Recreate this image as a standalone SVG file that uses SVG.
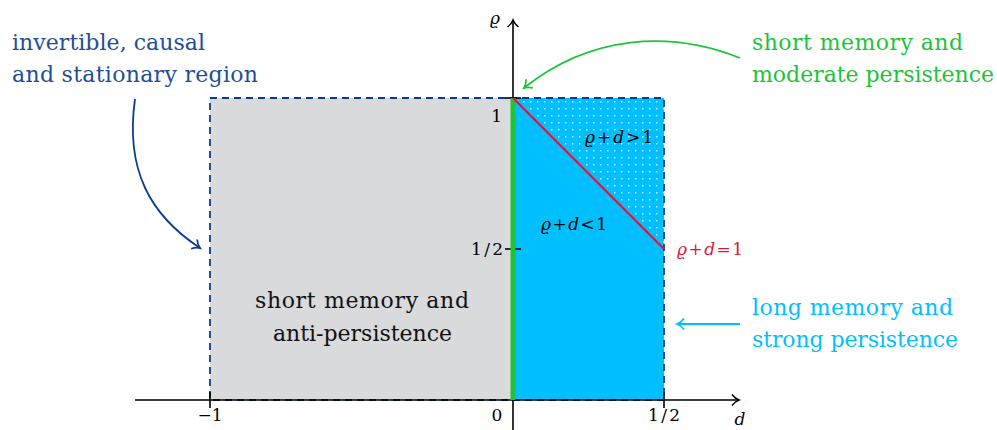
<svg xmlns="http://www.w3.org/2000/svg" width="997" height="430" viewBox="0 0 997 430">
<defs>
<style>
.lab{font-size:22px;font-family:'DejaVu Serif','Liberation Serif',serif;}
.tk{font-size:17px;fill:#000;font-family:'DejaVu Serif','Liberation Serif',serif;}
.it{font-style:italic;}
.ax{stroke:#000;stroke-width:1.6;fill:none;}
</style>
<pattern id="dots" x="513" y="98" width="7" height="7" patternUnits="userSpaceOnUse">
<rect x="3" y="3" width="1.5" height="1.5" fill="#ffffff" opacity="0.75"/>
</pattern>
<marker id="ak" markerWidth="14" markerHeight="14" refX="10" refY="7" orient="auto" markerUnits="userSpaceOnUse">
<path d="M3,1.5 Q6,5.5 10,7 Q6,8.5 3,12.5" fill="none" stroke="#000" stroke-width="1.5"/>
</marker>
<marker id="ab" markerWidth="14" markerHeight="14" refX="10" refY="7" orient="auto" markerUnits="userSpaceOnUse">
<path d="M3,1.5 Q6,5.5 10,7 Q6,8.5 3,12.5" fill="none" stroke="#0b3d91" stroke-width="1.8"/>
</marker>
<marker id="ag" markerWidth="14" markerHeight="14" refX="10" refY="7" orient="auto" markerUnits="userSpaceOnUse">
<path d="M3,1.5 Q6,5.5 10,7 Q6,8.5 3,12.5" fill="none" stroke="#1ec337" stroke-width="1.8"/>
</marker>
<marker id="ac" markerWidth="14" markerHeight="14" refX="10" refY="7" orient="auto" markerUnits="userSpaceOnUse">
<path d="M3,1.5 Q6,5.5 10,7 Q6,8.5 3,12.5" fill="none" stroke="#00bfff" stroke-width="1.8"/>
</marker>
</defs>
<rect width="997" height="430" fill="#ffffff"/>
<g id="regions">
<rect x="210" y="98" width="303" height="302" fill="#d9dadc"/>
<rect x="513" y="98" width="151" height="302" fill="#00bfff"/>
<polygon points="513,98 664,98 664,249" fill="url(#dots)"/>
<rect x="210" y="98" width="454" height="302" fill="none" stroke="#0b3d91" stroke-width="1.8" stroke-dasharray="7,5"/>
</g>
<g id="axes">
<line class="ax" x1="135" y1="400" x2="739" y2="400" marker-end="url(#ak)"/>
<line class="ax" x1="513" y1="430" x2="513" y2="20" marker-end="url(#ak)"/>
<line class="ax" x1="210" y1="392" x2="210" y2="408"/>
<line class="ax" x1="664" y1="392" x2="664" y2="408"/>
<line class="ax" x1="505" y1="98" x2="521" y2="98"/>
<line class="ax" x1="505" y1="249" x2="521" y2="249"/>
<text class="tk" x="210" y="421" text-anchor="middle">−1</text>
<text class="tk" x="497" y="421" text-anchor="middle">0</text>
<text class="tk" x="664" y="421" text-anchor="middle" textLength="32">1/2</text>
<text class="tk it" x="740" y="425" text-anchor="middle">d</text>
<text class="tk" x="502" y="122" text-anchor="end">1</text>
<text class="tk" x="503" y="255" text-anchor="end" textLength="32">1/2</text>
<text class="tk it" x="495" y="24" text-anchor="middle">ϱ</text>
</g>
<g id="boundaries">
<line x1="513" y1="98" x2="513" y2="400" stroke="#1ec337" stroke-width="5"/>
<line x1="513" y1="98" x2="664" y2="249" stroke="#dc143c" stroke-width="2"/>
</g>
<g id="region-labels">
<text class="tk" x="585" y="143" textLength="68"><tspan class="it">ϱ</tspan>+<tspan class="it">d</tspan>&gt;1</text>
<text class="tk" x="541" y="230" textLength="66"><tspan class="it">ϱ</tspan>+<tspan class="it">d</tspan>&lt;1</text>
<text class="tk" x="677" y="255" textLength="66" style="fill:#dc143c"><tspan class="it">ϱ</tspan>+<tspan class="it">d</tspan>=1</text>
<text class="lab" x="255" y="308" textLength="214" fill="#111">short memory and</text>
<text class="lab" x="273" y="341" textLength="179" fill="#111">anti-persistence</text>
</g>
<g id="node-invertible">
<text class="lab" x="12" y="50" textLength="193" fill="#1f4e96">invertible, causal</text>
<text class="lab" x="12" y="82" textLength="246" fill="#1f4e96">and stationary region</text>
</g>
<g id="node-short-moderate">
<text class="lab" x="752" y="50" textLength="211" fill="#1ec337">short memory and</text>
<text class="lab" x="752" y="82" textLength="242" fill="#1ec337">moderate persistence</text>
</g>
<g id="node-long-strong">
<text class="lab" x="752" y="315" textLength="201" fill="#00bfff">long memory and</text>
<text class="lab" x="752" y="347" textLength="206" fill="#00bfff">strong persistence</text>
</g>
<g id="connectors" fill="none" stroke-width="1.8">
<path d="M135,99 C125,170 150,215 200,248" stroke="#0b3d91" marker-end="url(#ab)"/>
<path d="M740,58 C670,30 590,35 524,88" stroke="#1ec337" marker-end="url(#ag)"/>
<line x1="740" y1="324" x2="677" y2="324" stroke="#00bfff" marker-end="url(#ac)"/>
</g>
</svg>
